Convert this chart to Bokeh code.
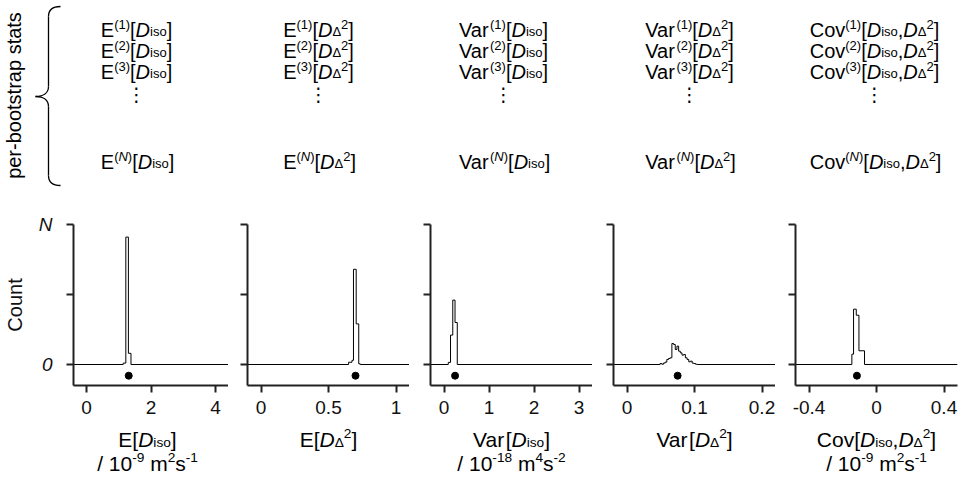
import math
from bokeh.plotting import figure
from bokeh.layouts import column, row
from bokeh.models import Range1d, FixedTicker, ColumnDataSource
from bokeh.embed import file_html
from bokeh.resources import INLINE
from bokeh.core.properties import value

# ---------------- data ----------------
N_BOOT = 1000
stat_names = ["E", "E", "Var", "Var", "Cov"]
stat_args = ["iso", "d2", "iso", "d2", "cov"]
boot_indices = ["1", "2", "3", "N"]
unit_parts = [("10", "-9", "2", "-1"), None, ("10", "-18", "4", "-2"), None, ("10", "-9", "2", "-1")]

x_ranges = [(-0.4, 4.4), (-0.1, 1.1), (-0.3, 3.3), (-0.02, 0.22), (-0.48, 0.48)]
x_ticks = [[0, 2, 4], [0, 0.5, 1], [0, 1, 2, 3], [0, 0.1, 0.2], [-0.4, 0, 0.4]]
x_tick_labels = [["0", "2", "4"], ["0", "0.5", "1"], ["0", "1", "2", "3"],
                 ["0", "0.1", "0.2"], ["-0.4", "0", "0.4"]]

# histogram bin edges and counts (out of N_BOOT) for each statistic
h1_edges = [1.14, 1.22, 1.30, 1.38]
h1_counts = [10, 910, 80]
h2_edges = [0.649, 0.674, 0.685, 0.705, 0.724, 0.735]
h2_counts = [16, 30, 680, 290, 5]
h3_edges = [0.095, 0.145, 0.195, 0.245, 0.295]
h3_counts = [15, 210, 460, 300]
h4_edges = [0.049, 0.0515, 0.054, 0.0565, 0.059, 0.0615, 0.064, 0.0665, 0.069,
            0.0715, 0.074, 0.0765, 0.079, 0.0815, 0.084, 0.0865, 0.089, 0.0915,
            0.094, 0.0965, 0.099, 0.1015, 0.104]
h4_counts = [7, 2, 10, 17, 36, 43, 48, 150, 143, 107, 131, 95, 83, 67, 71, 48,
             36, 19, 24, 10, 7, 2]
h5_edges = [-0.146, -0.136, -0.120, -0.104, -0.071]
h5_counts = [74, 395, 352, 98]
hist_edges = [h1_edges, h2_edges, h3_edges, h4_edges, h5_edges]
hist_counts = [h1_counts, h2_counts, h3_counts, h4_counts, h5_counts]

estimates = [1.31, 0.70, 0.246, 0.075, -0.116]

# ---------------- styling / layout ----------------
FONT = "Liberation Sans"
DOT_Y = -80
W = {' ': 278, '(': 333, ')': 333, ',': 278, '-': 333, '.': 278, '/': 278,
     'C': 722, 'D': 722, 'E': 667, 'N': 722, 'V': 667, '[': 278, ']': 278,
     'a': 556, 'i': 222, 'm': 833, 'o': 556, 'r': 333, 's': 500, 'v': 500,
     'Δ': 668}


def tw(t, size):
    return sum(W.get(c, 556) for c in t) * size / 1000.0


def arg_segs(kind):
    if kind == "iso":
        return [("[", "n"), ("D", "i"), ("iso", "sub"), ("]", "n")]
    if kind == "d2":
        return [("[", "n"), ("D", "i"), ("Δ", "sub"), ("2", "sup"), ("]", "n")]
    return [("[", "n"), ("D", "i"), ("iso", "sub"), (",", "n"), ("D", "i"),
            ("Δ", "sub"), ("2", "sup"), ("]", "n")]


def idx_segs(k):
    if k == "N":
        return [("(", "sup"), ("N", "supi"), (")", "sup")]
    return [("(" + k + ")", "sup")]


SMALL = 0.65


def seg_size(st, s):
    return s * SMALL if st in ("sup", "supi", "sub") else s


def segs_width(segs, s):
    return sum(tw(t, seg_size(st, s)) for t, st in segs)


def place(segs, x0, y0, s, rec, raise_=0.25):
    x = x0
    for t, st in segs:
        size = seg_size(st, s)
        if st in ("sup", "supi"):
            dy = -raise_ * s
        elif st == "sub":
            dy = 0.12 * s
        else:
            dy = 0
        # SVG collapses leading spaces: advance the pen instead
        stripped = t.lstrip(" ")
        x += tw(t[:len(t) - len(stripped)], size)
        rec["x"].append(x)
        rec["y"].append(y0 + dy)
        rec["text"].append(stripped)
        rec["fs"].append("%.1fpx" % size)
        rec["st"].append("italic" if st in ("i", "supi") else "normal")
        x += tw(stripped, size)


def new_rec():
    return {"x": [], "y": [], "text": [], "fs": [], "st": []}


# ---------------- top: per-bootstrap stats table ----------------
top = figure(width=964, height=200, x_range=Range1d(0, 964), y_range=Range1d(200, 0),
             x_axis_location=None, y_axis_location=None, toolbar_location=None,
             output_backend="svg", min_border=0)
top.grid.visible = False
top.outline_line_color = None

col_centers = [136, 318, 503, 689, 874]
row_base = [29, 50, 71, 161]
TS = 20
rec = new_rec()
for c in range(5):
    first = [(stat_names[c], "n")] + idx_segs("1") + arg_segs(stat_args[c])
    x_left = col_centers[c] - segs_width(first, TS) / 2
    for r, k in enumerate(boot_indices):
        segs = [(stat_names[c], "n")] + idx_segs(k) + arg_segs(stat_args[c])
        place(segs, x_left, row_base[r], TS, rec)
top.text(x="x", y="y", text="text", source=ColumnDataSource(rec),
         text_font=value(FONT), text_font_size="fs", text_font_style="st",
         text_color="black", text_align="left", text_baseline="alphabetic")
top.text(x=col_centers, y=[93] * 5, text=["⋮"] * 5, text_font=value("DejaVu Sans"),
         text_font_size="19px", text_align="center", text_baseline="middle",
         text_color="black")
top.text(x=[13], y=[95], text=["per-bootstrap stats"], angle=math.pi / 2,
         text_font=value(FONT), text_font_size="20px", text_align="center",
         text_baseline="middle", text_color="black")
# curly brace
top.bezier(x0=[60, 48, 35, 48], y0=[6, 86, 96, 175], x1=[48, 35, 48, 60], y1=[16, 96, 106, 185],
           cx0=[52, 48, 42, 48], cy0=[6, 93, 96, 181], cx1=[48, 42, 48, 52], cy1=[10, 96, 99, 185],
           line_color="black", line_width=1.3)
top.segment(x0=[48, 48], y0=[16, 106], x1=[48, 48], y1=[86, 175], line_color="black",
            line_width=1.3)

# ---------------- middle: histograms ----------------
lefts = [66, 19, 21, 21, 20]
rights = [0, 0, 0, 0, 7]
FRAME_W = 162
AX = "#222222"
panels = []
for k in range(5):
    p = figure(width=lefts[k] + FRAME_W + rights[k], height=223,
               x_range=Range1d(*x_ranges[k]), y_range=Range1d(-150, N_BOOT),
               min_border_left=lefts[k], min_border_right=rights[k],
               min_border_top=24, min_border_bottom=38,
               toolbar_location=None, output_backend="svg")
    p.grid.visible = False
    p.outline_line_color = None
    p.xaxis.ticker = FixedTicker(ticks=x_ticks[k], minor_ticks=[])
    p.xaxis.major_label_overrides = dict(zip(x_ticks[k], x_tick_labels[k]))
    p.yaxis.ticker = FixedTicker(ticks=[0, N_BOOT // 2, N_BOOT], minor_ticks=[])
    if k == 0:
        p.yaxis.major_label_overrides = {0: "0", N_BOOT // 2: "", N_BOOT: "N"}
    else:
        p.yaxis.major_label_overrides = {0: "", N_BOOT // 2: "", N_BOOT: ""}
    for ax in (p.xaxis[0], p.yaxis[0]):
        ax.axis_line_width = 2
        ax.axis_line_color = AX
        ax.major_tick_line_width = 2
        ax.major_tick_line_color = AX
        ax.major_tick_out = 7
        ax.major_tick_in = 0
        ax.minor_tick_line_color = None
        ax.major_label_text_font = FONT
        ax.major_label_text_font_size = "19px"
        ax.major_label_text_color = "#111111"
    p.xaxis.major_label_standoff = 8
    p.yaxis.major_label_standoff = 14
    if k == 0:
        p.yaxis.major_label_text_font_style = "italic"
        p.yaxis.axis_label = "Count"
        p.yaxis.axis_label_text_font = FONT
        p.yaxis.axis_label_text_font_size = "20px"
        p.yaxis.axis_label_text_font_style = "normal"
        p.yaxis.axis_label_text_color = "#111111"
        p.yaxis.axis_label_standoff = 10
    e = hist_edges[k]
    cnt = hist_counts[k]
    xs = [x_ranges[k][0]] + list(e) + [x_ranges[k][1]]
    ys = [0] + list(cnt) + [0, 0]
    p.step(x=xs, y=ys, mode="after", line_color="black", line_width=1)
    p.scatter(x=[estimates[k]], y=[DOT_Y], size=7, color="black")
    panels.append(p)

# ---------------- bottom: x labels ----------------
bot = figure(width=964, height=54, x_range=Range1d(0, 964), y_range=Range1d(54, 0),
             x_axis_location=None, y_axis_location=None, toolbar_location=None,
             output_backend="svg", min_border=0)
bot.grid.visible = False
bot.outline_line_color = None
centers = [lefts[0] + FRAME_W / 2]
acc = lefts[0] + FRAME_W
for k in range(1, 5):
    centers.append(acc + lefts[k] + FRAME_W / 2)
    acc += lefts[k] + FRAME_W + rights[k]
BS = 21
brec = new_rec()
for k in range(5):
    segs = [(stat_names[k], "n")] + arg_segs(stat_args[k])
    place(segs, centers[k] - segs_width(segs, BS) / 2, 16, BS, brec, raise_=0.3)
    if unit_parts[k] is not None:
        b, ex, me, se = unit_parts[k]
        us = [("/ " + b, "n"), (ex, "sup"), (" m", "n"), (me, "sup"), ("s", "n"), (se, "sup")]
        place(us, centers[k] - segs_width(us, BS) / 2, 40, BS, brec, raise_=0.3)
bot.text(x="x", y="y", text="text", source=ColumnDataSource(brec),
         text_font=value(FONT), text_font_size="fs", text_font_style="st",
         text_color="black", text_align="left", text_baseline="alphabetic")

layout = column(top, row(*panels, spacing=0), bot, spacing=0)
open("out.html", "w").write(file_html(layout, INLINE))
